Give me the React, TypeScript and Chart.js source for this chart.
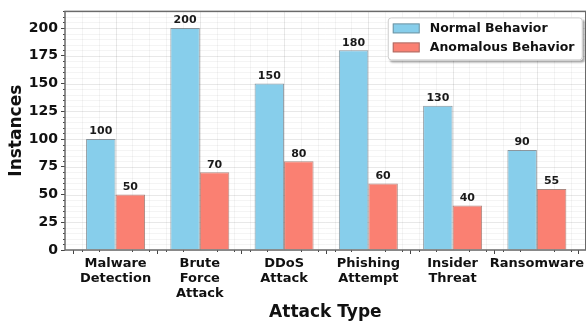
import React, { useEffect, useRef } from "react";
import { Chart, registerables } from "chart.js";

Chart.register(...registerables);

// Attack categories (multi-line tick labels)
const categories: string[][] = [
  ["Malware", "Detection"],
  ["Brute", "Force", "Attack"],
  ["DDoS", "Attack"],
  ["Phishing", "Attempt"],
  ["Insider", "Threat"],
  ["Ransomware"],
];
const seriesLabels = ["Normal Behavior", "Anomalous Behavior"];
const normalValues = [100, 200, 150, 180, 130, 90];
const anomalousValues = [50, 70, 80, 60, 40, 55];
const yTicks = [0, 25, 50, 75, 100, 125, 150, 175, 200];

const BLUE = "#87CEEB";
const RED = "#FA8072";
const FONT = "'DejaVu Sans', 'Liberation Sans', sans-serif";

const X_MIN = -0.6;
const X_MAX = 5.58;
const Y_MAX = 215;

const gridPlugin = {
  id: "mplGrid",
  beforeDatasetsDraw(chart: any) {
    const { ctx, chartArea: a, scales } = chart;
    const xs = scales.x;
    const ys = scales.y;
    ctx.save();
    ctx.lineWidth = 1;
    // horizontal grid, minor every 5
    for (let v = 0; v <= Y_MAX; v += 5) {
      const y = Math.round(ys.getPixelForValue(v)) + 0.5;
      ctx.strokeStyle = v % 25 === 0 ? "rgba(0,0,0,0.09)" : "rgba(0,0,0,0.045)";
      ctx.beginPath();
      ctx.moveTo(a.left, y);
      ctx.lineTo(a.right, y);
      ctx.stroke();
    }
    // vertical grid, minor every 0.2
    for (let i = -3; i <= 28; i++) {
      const v = i * 0.2;
      if (v < X_MIN || v > X_MAX) continue;
      const x = Math.round(xs.getPixelForValue(v)) + 0.5;
      ctx.strokeStyle = i % 5 === 0 ? "rgba(0,0,0,0.09)" : "rgba(0,0,0,0.045)";
      ctx.beginPath();
      ctx.moveTo(x, a.top);
      ctx.lineTo(x, a.bottom);
      ctx.stroke();
    }
    ctx.restore();
  },
  afterDatasetsDraw(chart: any) {
    const { ctx, chartArea: a, scales } = chart;
    const xs = scales.x;
    const ys = scales.y;
    ctx.save();
    // minor tick marks
    ctx.strokeStyle = "#444";
    ctx.lineWidth = 1;
    for (let v = 0; v <= Y_MAX; v += 5) {
      if (v % 25 === 0) continue;
      const y = Math.round(ys.getPixelForValue(v)) + 0.5;
      ctx.beginPath();
      ctx.moveTo(a.left - 2, y);
      ctx.lineTo(a.left, y);
      ctx.stroke();
    }
    for (let i = -3; i <= 28; i++) {
      if (i % 5 === 0) continue;
      const v = i * 0.2;
      if (v < X_MIN || v > X_MAX) continue;
      const x = Math.round(xs.getPixelForValue(v)) + 0.5;
      ctx.beginPath();
      ctx.moveTo(x, a.bottom);
      ctx.lineTo(x, a.bottom + 2);
      ctx.stroke();
    }
    // spines
    ctx.strokeStyle = "#6a6a6a";
    ctx.lineWidth = 1.5;
    ctx.strokeRect(a.left, a.top, a.right - a.left, a.bottom - a.top);

    // value labels
    ctx.fillStyle = "#1a1a1a";
    ctx.font = `bold 11px ${FONT}`;
    ctx.textAlign = "center";
    ctx.textBaseline = "bottom";
    chart.data.datasets.forEach((ds: any, di: number) => {
      const meta = chart.getDatasetMeta(di);
      meta.data.forEach((bar: any, i: number) => {
        ctx.fillText(String(ds.data[i].y), bar.x, bar.y - 2);
      });
    });

    // legend
    const fx = a.right - 198;
    const fy = a.top + 6;
    const fw = 195;
    const fh = 43;
    ctx.save();
    ctx.shadowColor = "rgba(0,0,0,0.35)";
    ctx.shadowOffsetX = 2;
    ctx.shadowOffsetY = 2;
    ctx.shadowBlur = 2;
    ctx.fillStyle = "#ffffff";
    ctx.beginPath();
    ctx.roundRect(fx, fy, fw, fh, 3);
    ctx.fill();
    ctx.restore();
    ctx.strokeStyle = "#cccccc";
    ctx.lineWidth = 1;
    ctx.beginPath();
    ctx.roundRect(fx + 0.5, fy + 0.5, fw - 1, fh - 1, 3);
    ctx.stroke();
    ctx.font = `bold 12.5px ${FONT}`;
    ctx.textAlign = "left";
    ctx.textBaseline = "middle";
    chart.data.datasets.forEach((ds: any, di: number) => {
      const cy = fy + 11 + di * 19;
      ctx.fillStyle = ds.backgroundColor;
      ctx.fillRect(fx + 5, cy - 5, 27, 10);
      ctx.strokeStyle = "rgba(90,90,90,0.5)";
      ctx.strokeRect(fx + 5.5, cy - 4.5, 26, 9);
      ctx.fillStyle = "#111";
      ctx.fillText(ds.label, fx + 42, cy + 0.5);
    });
    ctx.restore();
  },
};

export default function App() {
  const ref = useRef<HTMLCanvasElement>(null);

  useEffect(() => {
    if (!ref.current) return;
    const toPoints = (vals: number[]) => vals.map((y, x) => ({ x, y }));
    const chart = new Chart(ref.current, {
      type: "bar",
      data: {
        datasets: [
          {
            label: seriesLabels[0],
            data: toPoints(normalValues),
            backgroundColor: BLUE,
            borderColor: "rgba(95,110,120,0.7)",
            borderWidth: 1,
            categoryPercentage: 0.7,
            barPercentage: 1.0,
          },
          {
            label: seriesLabels[1],
            data: toPoints(anomalousValues),
            backgroundColor: RED,
            borderColor: "rgba(140,90,80,0.7)",
            borderWidth: 1,
            categoryPercentage: 0.7,
            barPercentage: 1.0,
          },
        ] as any,
      },
      options: {
        animation: false,
        responsive: false,
        devicePixelRatio: 1,
        layout: { padding: { top: 11, right: 0, left: 0, bottom: 0 } },
        plugins: {
          legend: { display: false },
          tooltip: { enabled: false },
          title: { display: false },
        },
        scales: {
          x: {
            type: "linear",
            min: X_MIN,
            max: X_MAX,
            offset: false,
            afterBuildTicks: (s: any) => {
              s.ticks = categories.map((_, i) => ({ value: i }));
            },
            afterFit: (s: any) => {
              s.height = 73;
            },
            grid: {
              drawOnChartArea: false,
              drawTicks: true,
              tickLength: 4,
              color: "#444",
            },
            border: { display: false },
            ticks: {
              autoSkip: false,
              maxRotation: 0,
              padding: 2,
              color: "#111",
              font: { family: FONT, size: 13, weight: "bold", lineHeight: 1.15 },
              callback: (v: any) => categories[Math.round(Number(v))] ?? "",
            },
            title: {
              display: true,
              text: "Attack Type",
              color: "#111",
              font: { family: FONT, size: 17, weight: "bold" },
              padding: { top: 0, bottom: 0 },
            },
          },
          y: {
            min: 0,
            max: Y_MAX,
            afterBuildTicks: (s: any) => {
              s.ticks = yTicks.map((value) => ({ value }));
            },
            afterFit: (s: any) => {
              s.width = 65;
            },
            grid: {
              drawOnChartArea: false,
              drawTicks: true,
              tickLength: 4,
              color: "#444",
            },
            border: { display: false },
            ticks: {
              padding: 3,
              color: "#111",
              font: { family: FONT, size: 14, weight: "bold" },
            },
            title: {
              display: true,
              text: "Instances",
              color: "#111",
              font: { family: FONT, size: 17, weight: "bold" },
              padding: { top: 6, bottom: 0 },
            },
          },
        },
      },
      plugins: [gridPlugin],
    } as any);
    return () => chart.destroy();
  }, []);

  return (
    <div style={{ position: "fixed", left: 0, top: 0, width: 586, height: 323, background: "#fff" }}>
      <canvas ref={ref} width={586} height={323} style={{ display: "block" }} />
    </div>
  );
}
